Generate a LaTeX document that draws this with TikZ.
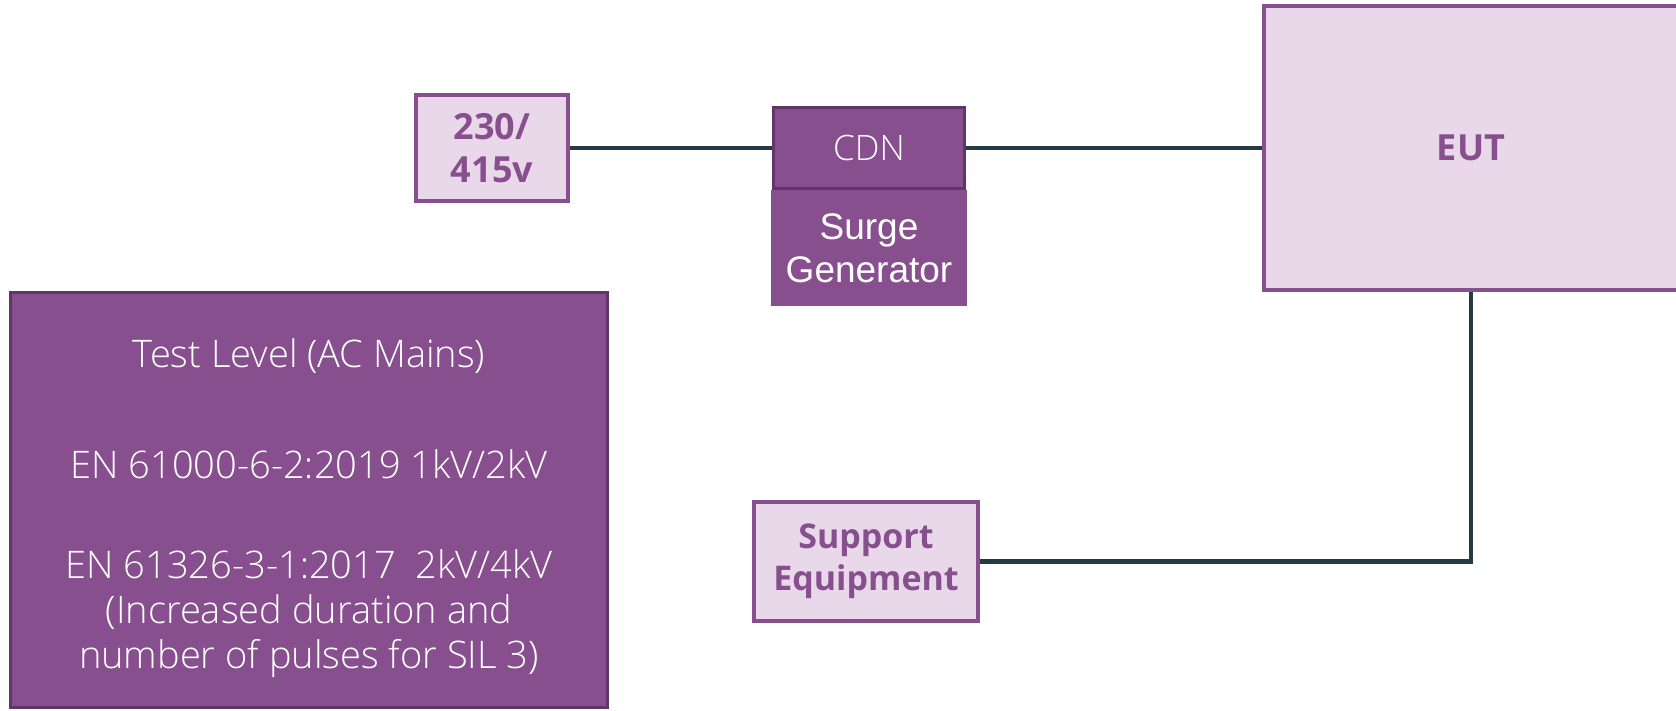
\documentclass[tikz,border=0pt]{standalone}
\usepackage{fontspec}
\setmainfont{Open Sans}
\newfontfamily\lightfont{Open Sans Light}
\newfontfamily\arialfont{Liberation Sans}
\usetikzlibrary{positioning}
\definecolor{plum}{HTML}{874F8E}
\definecolor{plumlight}{HTML}{E8D8EA}
\definecolor{plumdark}{HTML}{61356A}
\definecolor{wirecol}{HTML}{243B45}

\begin{document}
\begin{tikzpicture}[x=1pt,y=-1pt,
  lightbox/.style={draw=plum,line width=4pt,fill=plumlight,text=plum,align=center,inner sep=0pt,
    font=\bfseries\fontsize{36}{43}\selectfont},
  darkbox/.style={fill=plum,text=white,align=center,inner sep=0pt},
  wire/.style={draw=wirecol,line width=4.5pt}]
  \useasboundingbox (0,0) rectangle (1676,711);
  \node[lightbox,minimum width=152pt,minimum height=106pt] (mains) at (492,148) {230/\\415v};
  \node[darkbox,draw=plumdark,line width=3pt,minimum width=191pt,minimum height=81pt,
    font=\lightfont\fontsize{35}{40}\selectfont] (cdn) at (869,148) {CDN};
  \node[darkbox,below=0pt of cdn,minimum width=196pt,minimum height=116pt,
    font=\arialfont\fontsize{37}{43}\selectfont] (surge) {Surge\\Generator};
  \node[lightbox,minimum width=414pt,minimum height=284pt,
    font=\bfseries\fontsize{36}{42}\selectfont] (eut) at (1471,148) {EUT};
  \node[lightbox,minimum width=224pt,minimum height=119pt,
    font=\bfseries\fontsize{34}{42}\selectfont] (support) at (866,561.5) {Support\\Equipment};
  \node[darkbox,draw=plumdark,line width=3pt,minimum width=597pt,minimum height=415pt,
    font=\lightfont\fontsize{38}{45}\selectfont] (level) at (309,500)
    {\rule{0pt}{46pt}Test Level (AC Mains)\\[66pt]
     EN 61000-6-2:2019 1kV/2kV\\[55pt]
     EN 61326-3-1:2017~ 2kV/4kV\\
     (Increased duration and\\
     number of pulses for SIL 3)};
  \draw[wire] (mains) -- (cdn);
  \draw[wire] (cdn) -- (eut);
  \draw[wire] (eut.south) |- (support.east);
\end{tikzpicture}
\end{document}
